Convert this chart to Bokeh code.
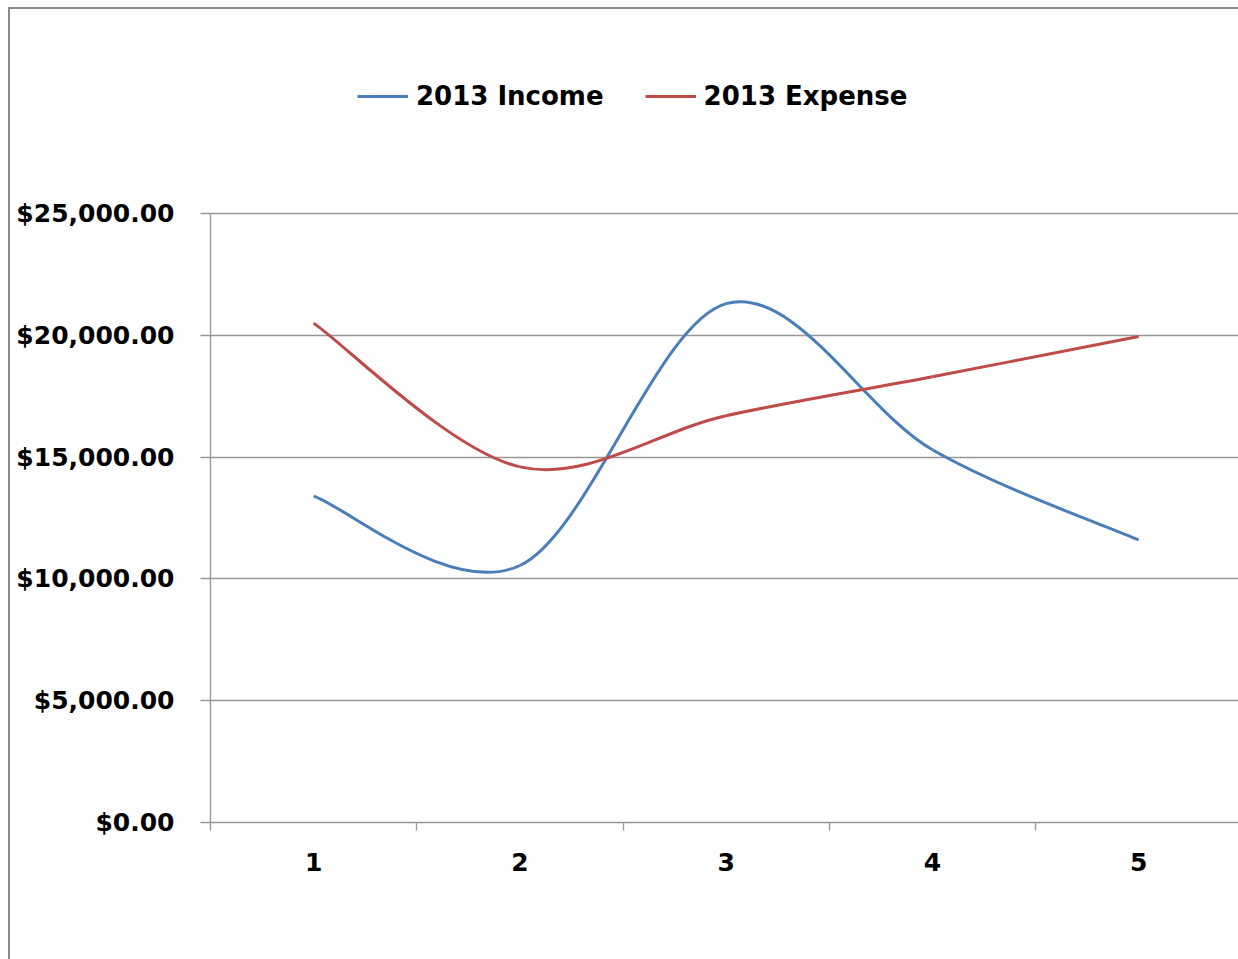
from bokeh.plotting import figure
from bokeh.models import Range1d, FixedTicker, Legend, LegendItem
from bokeh.embed import file_html
from bokeh.resources import INLINE

# ---- data ----
categories = [1, 2, 3, 4, 5]
income_2013 = [13400, 10550, 21300, 15300, 11600]
expense_2013 = [20500, 14600, 16700, 18300, 19950]
y_ticks = [0, 5000, 10000, 15000, 20000, 25000]
y_tick_labels = ["$0.00", "$5,000.00", "$10,000.00", "$15,000.00", "$20,000.00", "$25,000.00"]
x_tick_labels = ["1", "2", "3", "4", "5"]
series_names = ["2013 Income", "2013 Expense"]

FONT = "DejaVu Sans"
GRID = "#969696"
EDGE = "#8a8a8a"

# layout (pixels): plot area spans 609px for the value axis, the frame reaches to the top
# so that the legend (above the plot area) is not clipped
AXIS_PX = 609
FRAME_PX = 822
Y_TOP = y_ticks[-1] * FRAME_PX / AXIS_PX


def smooth_segments(xs, ys):
    """Catmull-Rom style smoothing (like Excel's smoothed line) as cubic Bezier segments."""
    px = [xs[0]] + list(xs) + [xs[-1]]
    py = [ys[0]] + list(ys) + [ys[-1]]
    out = {k: [] for k in ("x0", "y0", "x1", "y1", "cx0", "cy0", "cx1", "cy1")}
    for i in range(len(xs) - 1):
        ax, bx, cx, dx = px[i], px[i + 1], px[i + 2], px[i + 3]
        ay, by, cy, dy = py[i], py[i + 1], py[i + 2], py[i + 3]
        out["x0"].append(bx); out["y0"].append(by)
        out["x1"].append(cx); out["y1"].append(cy)
        out["cx0"].append(bx + (cx - ax) / 6.0); out["cy0"].append(by + (cy - ay) / 6.0)
        out["cx1"].append(cx - (dx - bx) / 6.0); out["cy1"].append(cy - (dy - by) / 6.0)
    return out


p = figure(width=1238, height=959, output_backend="svg", toolbar_location=None,
           x_range=Range1d(0.5, 5.484), y_range=Range1d(0, Y_TOP),
           min_border_left=210, min_border_top=0, min_border_bottom=959 - FRAME_PX,
           min_border_right=0)
# outer chart-area border (left and top edges, as in the reference)
p.styles = {
    "background": (f"linear-gradient({EDGE},{EDGE}) 8px 7px / 2px 100% no-repeat, "
                   f"linear-gradient({EDGE},{EDGE}) 8px 7px / 100% 2px no-repeat, white"),
}
p.outline_line_color = None
p.background_fill_alpha = 0
p.border_fill_alpha = 0

# grid
p.xgrid.visible = False
p.ygrid.ticker = FixedTicker(ticks=y_ticks)
p.ygrid.grid_line_color = GRID
p.ygrid.grid_line_width = 1.3

# y axis
ya = p.yaxis[0]
ya.ticker = FixedTicker(ticks=y_ticks)
ya.bounds = (y_ticks[0], y_ticks[-1])
ya.major_label_overrides = {t: l for t, l in zip(y_ticks, y_tick_labels)}
ya.axis_line_color = GRID
ya.axis_line_width = 1.3
ya.major_tick_line_color = GRID
ya.major_tick_line_width = 1.3
ya.major_tick_out = 10
ya.major_tick_in = 0
ya.minor_tick_line_color = None
ya.major_label_standoff = 26
ya.major_label_text_font = FONT
ya.major_label_text_font_style = "bold"
ya.major_label_text_font_size = "25px"
ya.major_label_text_color = "black"

# x axis
xa = p.xaxis[0]
xa.ticker = FixedTicker(ticks=categories, minor_ticks=[0.5, 1.5, 2.5, 3.5, 4.5, 5.5])
xa.major_label_overrides = {c: l for c, l in zip(categories, x_tick_labels)}
xa.axis_line_color = GRID
xa.axis_line_width = 1.3
xa.major_tick_line_color = None
xa.major_tick_out = 0
xa.major_tick_in = 0
xa.minor_tick_line_color = GRID
xa.minor_tick_line_width = 1.3
xa.minor_tick_out = 8
xa.minor_tick_in = 0
xa.major_label_standoff = 22
xa.major_label_text_font = FONT
xa.major_label_text_font_style = "bold"
xa.major_label_text_font_size = "25px"
xa.major_label_text_color = "black"

# smoothed lines
inc = smooth_segments(categories, income_2013)
exp = smooth_segments(categories, expense_2013)
r_inc = p.bezier(x0=inc["x0"], y0=inc["y0"], x1=inc["x1"], y1=inc["y1"],
                 cx0=inc["cx0"], cy0=inc["cy0"], cx1=inc["cx1"], cy1=inc["cy1"],
                 line_color="#4a7ebb", line_width=3)
r_exp = p.bezier(x0=exp["x0"], y0=exp["y0"], x1=exp["x1"], y1=exp["y1"],
                 cx0=exp["cx0"], cy0=exp["cy0"], cx1=exp["cx1"], cy1=exp["cy1"],
                 line_color="#be4b48", line_width=3)

legend = Legend(items=[LegendItem(label=series_names[0], renderers=[r_inc]),
                       LegendItem(label=series_names[1], renderers=[r_exp])],
                location=(147, 711), orientation="horizontal", padding=0, margin=0,
                spacing=41, border_line_color=None, background_fill_alpha=0,
                glyph_width=51, glyph_height=20, label_standoff=8, label_height=20,
                label_text_font=FONT, label_text_font_style="bold",
                label_text_font_size="26px", label_text_color="black")
p.add_layout(legend)

open("out.html", "w").write(file_html(p, INLINE))
